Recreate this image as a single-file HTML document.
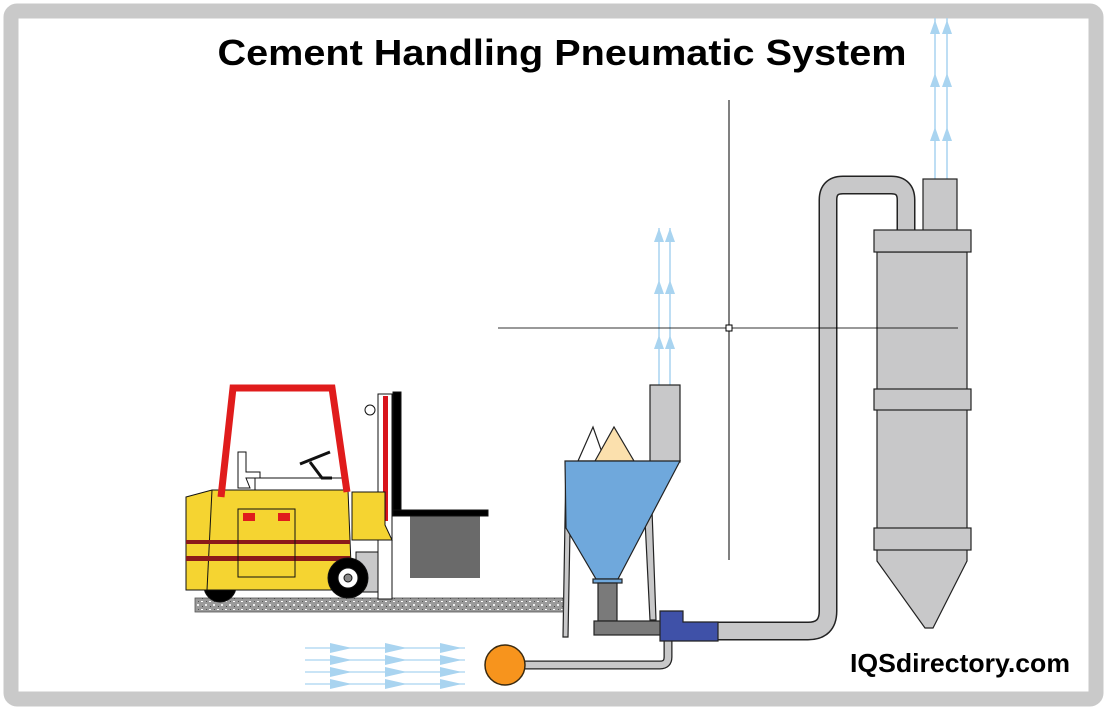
<!DOCTYPE html>
<html><head><meta charset="utf-8"><style>html,body{margin:0;padding:0;background:#fff}svg{display:block}</style></head>
<body>
<svg width="1108" height="711" viewBox="0 0 1108 711" xmlns="http://www.w3.org/2000/svg">
<defs>
<pattern id="sp" width="8" height="8" patternUnits="userSpaceOnUse">
<rect width="8" height="8" fill="#9a9a9a"/><rect x="1" y="1" width="2" height="1" fill="#fff"/><rect x="5" y="4" width="2" height="2" fill="#eee"/><rect x="2" y="6" width="1" height="1" fill="#444"/><rect x="6" y="1" width="1" height="1" fill="#555"/>
</pattern>
<g id="ua"><polygon points="-5,14 0,0 5,14" fill="#a9d4f0"/></g>
<g id="ra"><polygon points="0,-5 22,0 0,5" fill="#a9d4f0"/></g>
</defs>
<rect x="11" y="11" width="1085" height="688" fill="#fff" stroke="#c9c9c9" stroke-width="15" rx="6"/>
<text x="562" y="65" text-anchor="middle" font-family="Liberation Sans, Arial, sans-serif" font-weight="bold" font-size="36" textLength="689" lengthAdjust="spacingAndGlyphs" fill="#000">Cement Handling Pneumatic System</text>
<text x="1070" y="672" text-anchor="end" font-family="Liberation Sans, Arial, sans-serif" font-weight="bold" font-size="26" textLength="220" lengthAdjust="spacingAndGlyphs" fill="#000">IQSdirectory.com</text>

<!-- up arrows -->
<g stroke="#a9d4f0" stroke-width="1.5"><line x1="659" y1="228" x2="659" y2="385"/><line x1="670" y1="228" x2="670" y2="385"/>
<line x1="935" y1="18" x2="935" y2="179"/><line x1="947" y1="18" x2="947" y2="179"/></g>
<use href="#ua" x="659" y="228"/><use href="#ua" x="670" y="228"/>
<use href="#ua" x="659" y="280"/><use href="#ua" x="670" y="280"/>
<use href="#ua" x="659" y="335"/><use href="#ua" x="670" y="335"/>
<use href="#ua" x="935" y="20"/><use href="#ua" x="947" y="20"/>
<use href="#ua" x="935" y="73"/><use href="#ua" x="947" y="73"/>
<use href="#ua" x="935" y="127"/><use href="#ua" x="947" y="127"/>

<!-- left arrows -->
<g stroke="#a9d4f0" stroke-width="1.2">
<line x1="305" y1="648" x2="465" y2="648"/><line x1="305" y1="660" x2="465" y2="660"/><line x1="305" y1="672" x2="465" y2="672"/><line x1="305" y1="684" x2="465" y2="684"/></g>
<g>
<use href="#ra" x="330" y="648"/><use href="#ra" x="385" y="648"/><use href="#ra" x="440" y="648"/>
<use href="#ra" x="330" y="660"/><use href="#ra" x="385" y="660"/><use href="#ra" x="440" y="660"/>
<use href="#ra" x="330" y="672"/><use href="#ra" x="385" y="672"/><use href="#ra" x="440" y="672"/>
<use href="#ra" x="330" y="684"/><use href="#ra" x="385" y="684"/><use href="#ra" x="440" y="684"/>
</g>

<!-- big pipe -->
<path d="M712 631 H808 Q828 631 828 611 V200 Q828 185 843 185 H891 Q906 185 906 200 V232" fill="none" stroke="#222" stroke-width="19"/>
<path d="M712 631 H808 Q828 631 828 611 V200 Q828 185 843 185 H891 Q906 185 906 200 V232" fill="none" stroke="#c8c8c9" stroke-width="16"/>
<!-- small pipe -->
<path d="M510 665 H660 Q668 665 668 657 V638" fill="none" stroke="#222" stroke-width="9"/>
<path d="M510 665 H660 Q668 665 668 657 V638" fill="none" stroke="#c8c8c9" stroke-width="6.5"/>
<circle cx="505" cy="665" r="20" fill="#f7941d" stroke="#3a2a10" stroke-width="1.5"/>

<!-- collector -->
<g fill="#c8c8c9" stroke="#222" stroke-width="1.2">
<rect x="923" y="179" width="34" height="52"/>
<path d="M877 252 H967 V561 L933 628 H925 L877 561 Z"/>
<rect x="874" y="230" width="97" height="22"/>
<rect x="874" y="389" width="97" height="21"/>
<rect x="874" y="528" width="97" height="22"/>
</g>

<!-- crosshair -->
<line x1="729" y1="100" x2="729" y2="560" stroke="#000" stroke-width="1"/>
<line x1="498" y1="328" x2="958" y2="328" stroke="#000" stroke-width="1" stroke-opacity="0.8"/>
<rect x="726" y="325" width="6" height="6" fill="#fff" stroke="#000"/>

<!-- hopper -->
<g stroke="#222" stroke-width="1.2">
<rect x="650" y="385" width="30" height="77" fill="#c8c8c9"/>
<polygon points="578,461 593,427 605,461" fill="#fff"/>
<polygon points="595,461 614,427 634,461" fill="#fbe0ad"/>
<polygon points="566,462 563,637 568,637 570,530" fill="#c8c8c9"/>
<polygon points="645,520 650,620 656,620 652,510" fill="#c8c8c9"/>
<polygon points="565,461 680,461 618,579 596,579 566,528" fill="#6fa8dc"/>
<rect x="593" y="579" width="29" height="4" fill="#6fa8dc"/>
<rect x="598" y="583" width="19" height="38" fill="#7a7a7a"/>
<rect x="594" y="621" width="67" height="14" fill="#7a7a7a"/>
<path d="M660 611 H683 V622 H718 V641 H660 Z" fill="#3f51a8"/>
</g>

<!-- ground -->
<rect x="195" y="598" width="368" height="14" fill="url(#sp)" stroke="#555" stroke-width="0.8"/>

<!-- forklift -->
<g stroke="#111" stroke-width="1">
<rect x="410" y="516" width="70" height="62" fill="#6a6a6a" stroke="none"/>
<rect x="393" y="392" width="8" height="124" fill="#000"/>
<rect x="393" y="510" width="95" height="6" fill="#000"/>
<rect x="378" y="394" width="14" height="205" fill="#fff"/>
<rect x="383" y="396" width="5" height="125" fill="#d8141c" stroke="none"/>
<path d="M352 492 H385 V525 L392 540 H352 Z" fill="#f5d431"/>
<circle cx="370" cy="410" r="5" fill="#fff"/>
<circle cx="220" cy="586" r="16" fill="#000"/>
<path d="M186 497 L212 490 H348 L352 590 H186 Z" fill="#f5d431"/>
<line x1="212" y1="490" x2="207" y2="590"/>
<rect x="186" y="540" width="164" height="4" fill="#8b1a1a" stroke="none"/>
<rect x="186" y="556" width="164" height="5" fill="#8b1a1a" stroke="none"/>
<rect x="238" y="509" width="57" height="68" fill="none"/>
<rect x="243" y="513" width="12" height="8" fill="#e01c1c" stroke="none"/>
<rect x="278" y="513" width="12" height="8" fill="#e01c1c" stroke="none"/>
<rect x="255" y="478" width="90" height="12" fill="#fff"/>
<path d="M238 452 L246 452 L246 472 L260 472 L260 478 L246 478 L250 488 L238 488 Z" fill="#fff"/>
<line x1="300" y1="464" x2="330" y2="452" stroke-width="3"/>
<path d="M310 462 L322 478 L332 478" fill="none" stroke-width="3"/>
<rect x="356" y="552" width="22" height="40" fill="#c8c8c9"/>
<circle cx="348" cy="578" r="20" fill="#000"/>
<circle cx="348" cy="578" r="10" fill="#fff"/>
<circle cx="348" cy="578" r="4" fill="#888"/>
</g>
<path d="M221 497 L233 388 H332 L347 492" fill="none" stroke="#e01c1c" stroke-width="7" stroke-linejoin="miter"/>
</svg>
</body></html>
